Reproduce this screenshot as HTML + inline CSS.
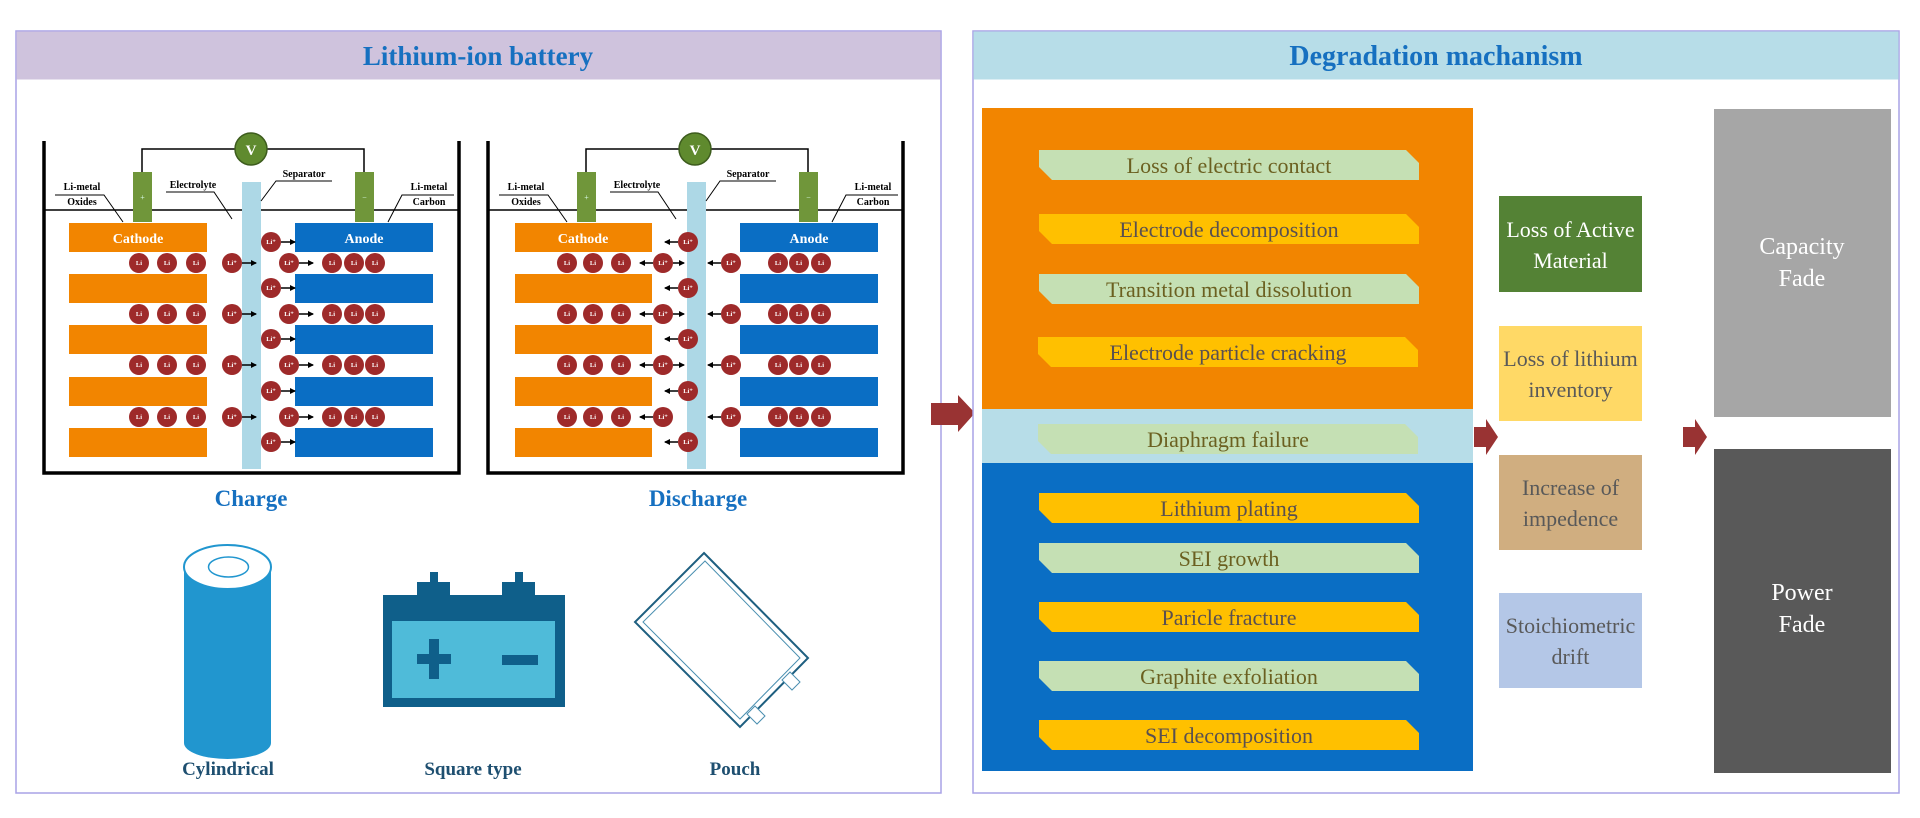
<!DOCTYPE html>
<html><head><meta charset="utf-8"><style>
html,body{margin:0;padding:0;background:#fff;}
svg{display:block;}
</style></head><body>
<svg width="1920" height="818" viewBox="0 0 1920 818" xmlns="http://www.w3.org/2000/svg" font-family="'Liberation Serif', serif">
<defs>
<marker id="ah" markerWidth="6" markerHeight="6" refX="5" refY="3" orient="auto" markerUnits="userSpaceOnUse"><path d="M0,0 L6,3 L0,6 z" fill="#000"/></marker>
</defs>
<rect width="1920" height="818" fill="#fff"/>

<!-- LEFT PANEL -->
<rect x="16" y="31" width="925" height="762" fill="#fff" stroke="#a9a2e6" stroke-width="1.5"/>
<rect x="16.5" y="31.5" width="924" height="48" fill="#cfc3dd"/>
<text x="478" y="65" text-anchor="middle" font-size="27" font-weight="bold" fill="#1670c0">Lithium-ion battery</text>

<!-- CHARGE -->
<g>
<path d="M44,141 V473 H459 V141" fill="none" stroke="#000" stroke-width="3.5"/>
<line x1="44" y1="210" x2="459" y2="210" stroke="#000" stroke-width="1.5"/>
<path d="M142,172 V149 H364 V172" fill="none" stroke="#000" stroke-width="1.5"/>
<circle cx="251" cy="149" r="16" fill="#5f8a2e" stroke="#3d5c1d" stroke-width="1.5"/>
<text x="251" y="155" text-anchor="middle" font-size="15" font-weight="bold" fill="#fff">V</text>
<rect x="133" y="172" width="19" height="50" fill="#70963a"/><text x="142.5" y="200" text-anchor="middle" font-size="8" fill="#dfe">+</text>
<rect x="355" y="172" width="19" height="50" fill="#70963a"/><text x="364.5" y="200" text-anchor="middle" font-size="8" fill="#dfe">−</text>
<rect x="242" y="182" width="19" height="287" fill="#add8e6"/>
<g fill="#f28500">
<rect x="69" y="223" width="138" height="29"/><rect x="69" y="274" width="138" height="29"/><rect x="69" y="325" width="138" height="29"/><rect x="69" y="377" width="138" height="29"/><rect x="69" y="428" width="138" height="29"/>
</g>
<g fill="#0a6ec4">
<rect x="295" y="223" width="138" height="29"/><rect x="295" y="274" width="138" height="29"/><rect x="295" y="325" width="138" height="29"/><rect x="295" y="377" width="138" height="29"/><rect x="295" y="428" width="138" height="29"/>
</g>
<text x="138" y="243" text-anchor="middle" font-size="14" font-weight="bold" fill="#fff">Cathode</text>
<text x="364" y="243" text-anchor="middle" font-size="14" font-weight="bold" fill="#fff">Anode</text>
<g font-size="10" font-weight="bold" fill="#000" text-anchor="middle">
<text x="82" y="190">Li-metal</text><text x="82" y="205">Oxides</text>
<text x="193" y="188">Electrolyte</text>
<text x="304" y="177">Separator</text>
<text x="429" y="190">Li-metal</text><text x="429" y="205">Carbon</text>
</g>
<g stroke="#000" stroke-width="1" fill="none">
<path d="M55,195 H104 L123,222"/><path d="M166,192 H214 L232,219"/><path d="M332,181 H276 L261,201"/><path d="M454,195 H402 L388,222"/>
</g>
<g fill="#9e2a2a">
<circle cx="139" cy="263" r="10"/><circle cx="167" cy="263" r="10"/><circle cx="196" cy="263" r="10"/>
<circle cx="139" cy="314" r="10"/><circle cx="167" cy="314" r="10"/><circle cx="196" cy="314" r="10"/>
<circle cx="139" cy="365" r="10"/><circle cx="167" cy="365" r="10"/><circle cx="196" cy="365" r="10"/>
<circle cx="139" cy="417" r="10"/><circle cx="167" cy="417" r="10"/><circle cx="196" cy="417" r="10"/>
<circle cx="232" cy="263" r="10"/><circle cx="232" cy="314" r="10"/><circle cx="232" cy="365" r="10"/><circle cx="232" cy="417" r="10"/>
<circle cx="289" cy="263" r="10"/><circle cx="289" cy="314" r="10"/><circle cx="289" cy="365" r="10"/><circle cx="289" cy="417" r="10"/>
<circle cx="332" cy="263" r="10"/><circle cx="354" cy="263" r="10"/><circle cx="375" cy="263" r="10"/>
<circle cx="332" cy="314" r="10"/><circle cx="354" cy="314" r="10"/><circle cx="375" cy="314" r="10"/>
<circle cx="332" cy="365" r="10"/><circle cx="354" cy="365" r="10"/><circle cx="375" cy="365" r="10"/>
<circle cx="332" cy="417" r="10"/><circle cx="354" cy="417" r="10"/><circle cx="375" cy="417" r="10"/>
<circle cx="271" cy="242" r="10"/><circle cx="271" cy="288" r="10"/><circle cx="271" cy="339" r="10"/><circle cx="271" cy="391" r="10"/><circle cx="271" cy="442" r="10"/>
</g>
<g stroke="#000" stroke-width="1.5" marker-end="url(#ah)">
<line x1="242" y1="263" x2="256" y2="263"/><line x1="242" y1="314" x2="256" y2="314"/><line x1="242" y1="365" x2="256" y2="365"/><line x1="242" y1="417" x2="256" y2="417"/>
<line x1="299" y1="263" x2="313" y2="263"/><line x1="299" y1="314" x2="313" y2="314"/><line x1="299" y1="365" x2="313" y2="365"/><line x1="299" y1="417" x2="313" y2="417"/>
<line x1="281" y1="242" x2="295" y2="242"/><line x1="281" y1="288" x2="295" y2="288"/><line x1="281" y1="339" x2="295" y2="339"/><line x1="281" y1="391" x2="295" y2="391"/><line x1="281" y1="442" x2="295" y2="442"/>
</g>
<text x="251" y="506" text-anchor="middle" font-size="23" font-weight="bold" fill="#1670c0">Charge</text>
</g>

<!-- DISCHARGE -->
<g transform="translate(444,0)">
<path d="M44,141 V473 H459 V141" fill="none" stroke="#000" stroke-width="3.5"/>
<line x1="44" y1="210" x2="459" y2="210" stroke="#000" stroke-width="1.5"/>
<path d="M142,172 V149 H364 V172" fill="none" stroke="#000" stroke-width="1.5"/>
<circle cx="251" cy="149" r="16" fill="#5f8a2e" stroke="#3d5c1d" stroke-width="1.5"/>
<text x="251" y="155" text-anchor="middle" font-size="15" font-weight="bold" fill="#fff">V</text>
<rect x="133" y="172" width="19" height="50" fill="#70963a"/><text x="142.5" y="200" text-anchor="middle" font-size="8" fill="#dfe">+</text>
<rect x="355" y="172" width="19" height="50" fill="#70963a"/><text x="364.5" y="200" text-anchor="middle" font-size="8" fill="#dfe">−</text>
<rect x="243" y="182" width="19" height="287" fill="#add8e6"/>
<g fill="#f28500">
<rect x="71" y="223" width="137" height="29"/><rect x="71" y="274" width="137" height="29"/><rect x="71" y="325" width="137" height="29"/><rect x="71" y="377" width="137" height="29"/><rect x="71" y="428" width="137" height="29"/>
</g>
<g fill="#0a6ec4">
<rect x="296" y="223" width="138" height="29"/><rect x="296" y="274" width="138" height="29"/><rect x="296" y="325" width="138" height="29"/><rect x="296" y="377" width="138" height="29"/><rect x="296" y="428" width="138" height="29"/>
</g>
<text x="139" y="243" text-anchor="middle" font-size="14" font-weight="bold" fill="#fff">Cathode</text>
<text x="365" y="243" text-anchor="middle" font-size="14" font-weight="bold" fill="#fff">Anode</text>
<g font-size="10" font-weight="bold" fill="#000" text-anchor="middle">
<text x="82" y="190">Li-metal</text><text x="82" y="205">Oxides</text>
<text x="193" y="188">Electrolyte</text>
<text x="304" y="177">Separator</text>
<text x="429" y="190">Li-metal</text><text x="429" y="205">Carbon</text>
</g>
<g stroke="#000" stroke-width="1" fill="none">
<path d="M55,195 H104 L123,222"/><path d="M166,192 H214 L232,219"/><path d="M332,181 H276 L262,201"/><path d="M454,195 H402 L388,222"/>
</g>
<g fill="#9e2a2a">
<circle cx="123" cy="263" r="10"/><circle cx="149" cy="263" r="10"/><circle cx="177" cy="263" r="10"/>
<circle cx="123" cy="314" r="10"/><circle cx="149" cy="314" r="10"/><circle cx="177" cy="314" r="10"/>
<circle cx="123" cy="365" r="10"/><circle cx="149" cy="365" r="10"/><circle cx="177" cy="365" r="10"/>
<circle cx="123" cy="417" r="10"/><circle cx="149" cy="417" r="10"/><circle cx="177" cy="417" r="10"/>
<circle cx="219" cy="263" r="10"/><circle cx="219" cy="314" r="10"/><circle cx="219" cy="365" r="10"/><circle cx="219" cy="417" r="10"/>
<circle cx="287" cy="263" r="10"/><circle cx="287" cy="314" r="10"/><circle cx="287" cy="365" r="10"/><circle cx="287" cy="417" r="10"/>
<circle cx="334" cy="263" r="10"/><circle cx="355" cy="263" r="10"/><circle cx="377" cy="263" r="10"/>
<circle cx="334" cy="314" r="10"/><circle cx="355" cy="314" r="10"/><circle cx="377" cy="314" r="10"/>
<circle cx="334" cy="365" r="10"/><circle cx="355" cy="365" r="10"/><circle cx="377" cy="365" r="10"/>
<circle cx="334" cy="417" r="10"/><circle cx="355" cy="417" r="10"/><circle cx="377" cy="417" r="10"/>
<circle cx="244" cy="242" r="10"/><circle cx="244" cy="288" r="10"/><circle cx="244" cy="339" r="10"/><circle cx="244" cy="391" r="10"/><circle cx="244" cy="442" r="10"/>
</g>
<g stroke="#000" stroke-width="1.5" marker-end="url(#ah)">
<line x1="209" y1="263" x2="196" y2="263"/><line x1="209" y1="314" x2="196" y2="314"/><line x1="209" y1="365" x2="196" y2="365"/><line x1="209" y1="417" x2="196" y2="417"/>
<line x1="229" y1="263" x2="240" y2="263"/><line x1="229" y1="314" x2="240" y2="314"/><line x1="229" y1="365" x2="240" y2="365"/>
<line x1="277" y1="263" x2="264" y2="263"/><line x1="277" y1="314" x2="264" y2="314"/><line x1="277" y1="365" x2="264" y2="365"/><line x1="277" y1="417" x2="264" y2="417"/>
<line x1="234" y1="242" x2="221" y2="242"/><line x1="234" y1="288" x2="221" y2="288"/><line x1="234" y1="339" x2="221" y2="339"/><line x1="234" y1="391" x2="221" y2="391"/><line x1="234" y1="442" x2="221" y2="442"/>
</g>
<text x="254" y="506" text-anchor="middle" font-size="23" font-weight="bold" fill="#1670c0">Discharge</text>
</g>

<!-- Li labels on circles -->
<g font-size="6.5" font-weight="bold" fill="#fff" text-anchor="middle">
<text x="139" y="265">Li</text><text x="167" y="265">Li</text><text x="196" y="265">Li</text>
<text x="139" y="316">Li</text><text x="167" y="316">Li</text><text x="196" y="316">Li</text>
<text x="139" y="367">Li</text><text x="167" y="367">Li</text><text x="196" y="367">Li</text>
<text x="139" y="419">Li</text><text x="167" y="419">Li</text><text x="196" y="419">Li</text>
<text x="232" y="265">Li⁺</text><text x="232" y="316">Li⁺</text><text x="232" y="367">Li⁺</text><text x="232" y="419">Li⁺</text>
<text x="289" y="265">Li⁺</text><text x="289" y="316">Li⁺</text><text x="289" y="367">Li⁺</text><text x="289" y="419">Li⁺</text>
<text x="271" y="244">Li⁺</text><text x="271" y="290">Li⁺</text><text x="271" y="341">Li⁺</text><text x="271" y="393">Li⁺</text><text x="271" y="444">Li⁺</text>
<text x="332" y="265">Li</text><text x="354" y="265">Li</text><text x="375" y="265">Li</text>
<text x="332" y="316">Li</text><text x="354" y="316">Li</text><text x="375" y="316">Li</text>
<text x="332" y="367">Li</text><text x="354" y="367">Li</text><text x="375" y="367">Li</text>
<text x="332" y="419">Li</text><text x="354" y="419">Li</text><text x="375" y="419">Li</text>
<text x="567" y="265">Li</text><text x="593" y="265">Li</text><text x="621" y="265">Li</text>
<text x="567" y="316">Li</text><text x="593" y="316">Li</text><text x="621" y="316">Li</text>
<text x="567" y="367">Li</text><text x="593" y="367">Li</text><text x="621" y="367">Li</text>
<text x="567" y="419">Li</text><text x="593" y="419">Li</text><text x="621" y="419">Li</text>
<text x="663" y="265">Li⁺</text><text x="663" y="316">Li⁺</text><text x="663" y="367">Li⁺</text><text x="663" y="419">Li⁺</text>
<text x="731" y="265">Li⁺</text><text x="731" y="316">Li⁺</text><text x="731" y="367">Li⁺</text><text x="731" y="419">Li⁺</text>
<text x="688" y="244">Li⁺</text><text x="688" y="290">Li⁺</text><text x="688" y="341">Li⁺</text><text x="688" y="393">Li⁺</text><text x="688" y="444">Li⁺</text>
<text x="778" y="265">Li</text><text x="799" y="265">Li</text><text x="821" y="265">Li</text>
<text x="778" y="316">Li</text><text x="799" y="316">Li</text><text x="821" y="316">Li</text>
<text x="778" y="367">Li</text><text x="799" y="367">Li</text><text x="821" y="367">Li</text>
<text x="778" y="419">Li</text><text x="799" y="419">Li</text><text x="821" y="419">Li</text>
</g>

<!-- Cylinder -->
<path d="M184,567 V743 A43.5,16 0 0 0 271,743 V567 Z" fill="#2196cf"/>
<ellipse cx="227.5" cy="567" rx="43.5" ry="22" fill="#fff" stroke="#2196cf" stroke-width="2"/>
<ellipse cx="228.5" cy="567" rx="20" ry="10" fill="none" stroke="#2196cf" stroke-width="1.5"/>
<!-- Square type -->
<rect x="430" y="572" width="8" height="12" fill="#0f5f8a"/>
<rect x="515" y="572" width="8" height="12" fill="#0f5f8a"/>
<rect x="417" y="582" width="33" height="14" fill="#0f5f8a"/>
<rect x="502" y="582" width="33" height="14" fill="#0f5f8a"/>
<rect x="383" y="595" width="182" height="112" fill="#0f5f8a"/>
<rect x="392" y="621" width="163" height="77" fill="#4fbbd9"/>
<rect x="417" y="654" width="34" height="10" fill="#0f5f8a"/>
<rect x="429" y="639" width="10" height="40" fill="#0f5f8a"/>
<rect x="502" y="655" width="36" height="10" fill="#0f5f8a"/>
<!-- Pouch -->
<polygon points="704,553 808,658 740,727 635,622" fill="#fff" stroke="#1e5f80" stroke-width="2"/>
<polygon points="705,561 800,658 740,719 643,622" fill="none" stroke="#4a8fb0" stroke-width="1"/>
<polygon points="790,672 800,682 792,690 782,680" fill="#fff" stroke="#4a8fb0" stroke-width="1"/>
<polygon points="755,706 765,716 757,724 747,714" fill="#fff" stroke="#4a8fb0" stroke-width="1"/>
<g font-size="19" font-weight="bold" fill="#1e4f70" text-anchor="middle">
<text x="228" y="775">Cylindrical</text><text x="473" y="775">Square type</text><text x="735" y="775">Pouch</text>
</g>

<!-- Big arrow -->
<polygon points="931,403 958,403 958,395 975,413 958,432 958,425 931,425" fill="#993333"/>

<!-- RIGHT PANEL -->
<rect x="973" y="31" width="926" height="762" fill="#fff" stroke="#a9a2e6" stroke-width="1.5"/>
<rect x="973.5" y="31.5" width="925" height="48" fill="#b7dde8"/>
<text x="1436" y="65" text-anchor="middle" font-size="28" font-weight="bold" fill="#1670c0">Degradation machanism</text>

<rect x="982" y="108" width="491" height="301" fill="#f28500"/>
<rect x="982" y="409" width="491" height="54" fill="#b7dde8"/>
<rect x="982" y="463" width="491" height="308" fill="#0a6ec4"/>

<g>
<polygon points="1039,150 1406,150 1419,163 1419,180 1052,180 1039,167" fill="#c5e0b4"/>
<polygon points="1039,214 1406,214 1419,227 1419,244 1052,244 1039,231" fill="#ffc000"/>
<polygon points="1039,274 1406,274 1419,287 1419,304 1052,304 1039,291" fill="#c5e0b4"/>
<polygon points="1038,337 1405,337 1418,350 1418,367 1051,367 1038,354" fill="#ffc000"/>
<polygon points="1038,424 1405,424 1418,437 1418,454 1051,454 1038,441" fill="#c5e0b4"/>
<polygon points="1039,493 1406,493 1419,506 1419,523 1052,523 1039,510" fill="#ffc000"/>
<polygon points="1039,543 1406,543 1419,556 1419,573 1052,573 1039,560" fill="#c5e0b4"/>
<polygon points="1039,602 1406,602 1419,615 1419,632 1052,632 1039,619" fill="#ffc000"/>
<polygon points="1039,661 1406,661 1419,674 1419,691 1052,691 1039,678" fill="#c5e0b4"/>
<polygon points="1039,720 1406,720 1419,733 1419,750 1052,750 1039,737" fill="#ffc000"/>
</g>
<g font-size="22" text-anchor="middle">
<text x="1229" y="173" fill="#6b6020">Loss of electric contact</text>
<text x="1229" y="237" fill="#5a5050">Electrode decomposition</text>
<text x="1229" y="297" fill="#6b6020">Transition metal dissolution</text>
<text x="1228" y="360" fill="#5a5050">Electrode particle cracking</text>
<text x="1228" y="447" fill="#6b6020">Diaphragm failure</text>
<text x="1229" y="516" fill="#5a5050">Lithium plating</text>
<text x="1229" y="566" fill="#6b6020">SEI growth</text>
<text x="1229" y="625" fill="#5a5050">Paricle fracture</text>
<text x="1229" y="684" fill="#6b6020">Graphite exfoliation</text>
<text x="1229" y="743" fill="#5a5050">SEI decomposition</text>
</g>

<polygon points="1474,427 1486,427 1486,419 1498,437 1486,455 1486,447 1474,447" fill="#993333"/>
<polygon points="1683,427 1695,427 1695,419 1707,437 1695,455 1695,447 1683,447" fill="#993333"/>

<rect x="1499" y="196" width="143" height="96" fill="#548235"/>
<rect x="1499" y="326" width="143" height="95" fill="#ffd966"/>
<rect x="1499" y="455" width="143" height="95" fill="#d0ae80"/>
<rect x="1499" y="593" width="143" height="95" fill="#b4c7e7"/>
<g font-size="22" text-anchor="middle">
<text x="1570.5" y="237" fill="#fff">Loss of Active</text><text x="1570.5" y="268" fill="#fff">Material</text>
<text x="1570.5" y="366" fill="#595959">Loss of lithium</text><text x="1570.5" y="397" fill="#595959">inventory</text>
<text x="1570.5" y="495" fill="#595959">Increase of</text><text x="1570.5" y="526" fill="#595959">impedence</text>
<text x="1570.5" y="633" fill="#595959">Stoichiometric</text><text x="1570.5" y="664" fill="#595959">drift</text>
</g>

<rect x="1714" y="109" width="177" height="308" fill="#a6a6a6"/>
<rect x="1714" y="449" width="177" height="324" fill="#595959"/>
<g font-size="24" text-anchor="middle" fill="#fff">
<text x="1802" y="254">Capacity</text><text x="1802" y="286">Fade</text>
<text x="1802" y="600">Power</text><text x="1802" y="632">Fade</text>
</g>
</svg>
</body></html>
